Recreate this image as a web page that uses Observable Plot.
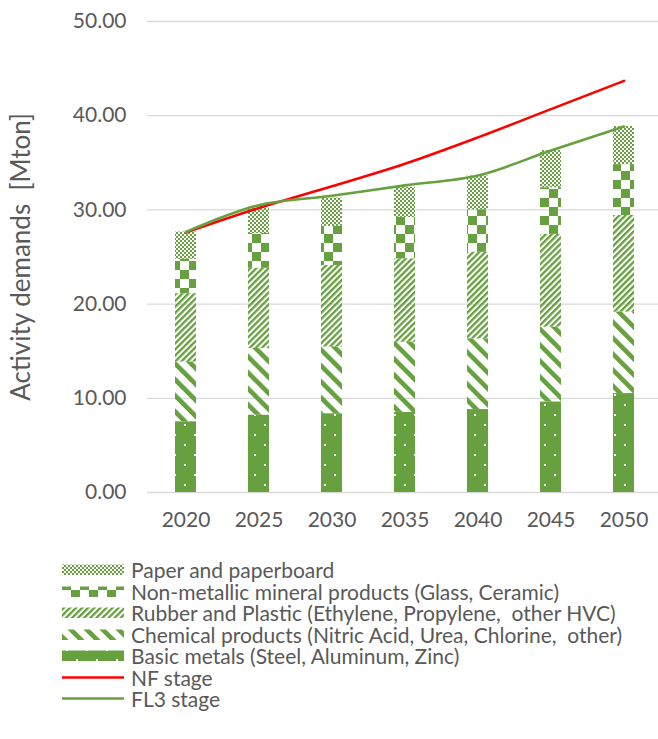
<!DOCTYPE html>
<html>
<head>
<meta charset="utf-8">
<script src="https://cdn.jsdelivr.net/npm/d3@7"></script>
<script src="https://cdn.jsdelivr.net/npm/@observablehq/plot@0.6"></script>
<style>
  html, body { margin: 0; padding: 0; background: #fff; }
  #wrap { position: relative; width: 658px; height: 739px; overflow: hidden; font-family: Lato, "Open Sans", sans-serif; }
  svg text { white-space: pre; }
  .legend { position: absolute; left: 0; top: 0; width: 658px; }
  .row { position: absolute; left: 62px; height: 21px; display: flex; align-items: center; }
  .row svg { flex: none; }
  .row span { margin-left: 7px; font-size: 21px; color: #595959; white-space: pre; line-height: 21px; }
</style>
</head>
<body>
<div id="wrap"></div>
<script>
// ---- data ----
const years = ["2020", "2025", "2030", "2035", "2040", "2045", "2050"];
const seriesNames = [
  "Basic metals (Steel, Aluminum, Zinc)",
  "Chemical products (Nitric Acid, Urea, Chlorine,  other)",
  "Rubber and Plastic (Ethylene, Propylene,  other HVC)",
  "Non-metallic mineral products (Glass, Ceramic)",
  "Paper and paperboard"
];
const basicMetals = [7.5, 8.2, 8.35, 8.5, 8.8, 9.6, 10.5];
const chemicalProducts = [6.35, 7.1, 7.1, 7.45, 7.5, 7.95, 8.65];
const rubberPlastic = [7.25, 8.5, 8.65, 8.85, 9.2, 9.85, 10.25];
const nonMetallic = [3.65, 3.7, 4.15, 4.4, 4.5, 4.95, 5.4];
const paperboard = [2.9, 2.65, 3.0, 3.2, 3.6, 3.95, 4.05];
const nfStage = [27.6, 30.2, 32.5, 34.9, 37.7, 40.7, 43.7];
const fl3Stage = [27.65, 30.5, 31.5, 32.6, 33.65, 36.3, 38.85];
const yTicks = [0, 10, 20, 30, 40, 50];
const lineNames = ["NF stage", "FL3 stage"];

// ---- styling ----
const green = "#66A03F";
const red = "#FF0000";
const patternIds = ["pat-basic", "pat-chem", "pat-rubber", "pat-nonmet", "pat-paper"];

const seriesValues = [basicMetals, chemicalProducts, rubberPlastic, nonMetallic, paperboard];
const barRows = [];
years.forEach((yr, i) => {
  seriesNames.forEach((s, k) => barRows.push({year: yr, series: s, value: seriesValues[k][i]}));
});
const nfRows = years.map((yr, i) => ({year: yr, value: nfStage[i]}));
const fl3Rows = years.map((yr, i) => ({year: yr, value: fl3Stage[i]}));

const defsHtml = `
<pattern id="pat-basic" patternUnits="userSpaceOnUse" width="20" height="20">
  <rect width="20" height="20" fill="${green}"/>
  <rect x="4" y="4" width="2" height="2" fill="#fff"/>
  <rect x="14" y="14" width="2" height="2" fill="#fff"/>
</pattern>
<pattern id="pat-chem" patternUnits="userSpaceOnUse" width="11.3" height="11.3" patternTransform="rotate(-45)">
  <rect width="4.6" height="11.3" fill="${green}"/>
</pattern>
<pattern id="pat-rubber" patternUnits="userSpaceOnUse" width="4.3" height="4.3" patternTransform="rotate(45)">
  <rect width="2.3" height="4.3" fill="${green}"/>
</pattern>
<pattern id="pat-nonmet" patternUnits="userSpaceOnUse" width="18" height="18">
  <rect x="0" y="0" width="9" height="9" fill="${green}"/>
  <rect x="9" y="9" width="9" height="9" fill="${green}"/>
</pattern>
<pattern id="pat-paper" patternUnits="userSpaceOnUse" width="4" height="4">
  <rect x="0" y="0" width="2" height="2" fill="${green}"/>
  <rect x="2" y="2" width="2" height="2" fill="${green}"/>
</pattern>`;

const chart = Plot.plot({
  width: 658,
  height: 545,
  marginTop: 21,
  marginBottom: 53,
  marginLeft: 147,
  marginRight: 0,
  style: {fontFamily: "Lato, 'Open Sans', sans-serif", fontSize: "21px", color: "#595959", background: "#fff"},
  x: {domain: years, range: [146.6, 663], paddingInner: 0.715, paddingOuter: 0.3575},
  y: {domain: [0, 50]},
  color: {type: "ordinal", domain: seriesNames, range: patternIds.map(id => `url(#${id})`)},
  marks: [
    Plot.ruleY(yTicks, {stroke: "#D9D9D9", strokeWidth: 1.3}),
    Plot.barY(barRows, Plot.stackY({x: "year", y: "value", fill: "series", order: null})),
    Plot.line(nfRows, {x: "year", y: "value", stroke: red, strokeWidth: 2.6, curve: "catmull-rom"}),
    Plot.line(fl3Rows, {x: "year", y: "value", stroke: green, strokeWidth: 2.6, curve: "catmull-rom"}),
    Plot.axisY({ticks: yTicks, tickFormat: d => d.toFixed(2), tickSize: 0, tickPadding: 21,
      label: "Activity demands  [Mton]", labelAnchor: "center", labelOffset: 136, labelArrow: false,
      fontSize: 21}),
    Plot.axisX({tickSize: 0, tickPadding: 20, label: null, fontSize: 21})
  ]
});
d3.select(chart).insert("defs", ":first-child").html(defsHtml);
d3.select(chart).selectAll("[aria-label='y-axis label'] text").style("font-size", "26px");
document.getElementById("wrap").appendChild(chart);
chart.style.position = "absolute";
chart.style.left = "0";
chart.style.top = "0";

// ---- legend ----
const legend = document.createElement("div");
legend.className = "legend";
const legendEntries = [
  {name: seriesNames[4], pat: "pat-paper"},
  {name: seriesNames[3], pat: "pat-nonmet"},
  {name: seriesNames[2], pat: "pat-rubber"},
  {name: seriesNames[1], pat: "pat-chem"},
  {name: seriesNames[0], pat: "pat-basic"},
  {name: lineNames[0], line: red},
  {name: lineNames[1], line: green}
];
legendEntries.forEach((e, i) => {
  const row = document.createElement("div");
  row.className = "row";
  row.style.top = (559 + i * 21.5) + "px";
  const sw = e.pat
    ? `<svg width="62" height="21"><rect x="0" y="5.5" width="62" height="10.5" fill="url(#${e.pat})"/></svg>`
    : `<svg width="62" height="21"><line x1="0" x2="62" y1="10.5" y2="10.5" stroke="${e.line}" stroke-width="2.6"/></svg>`;
  row.innerHTML = sw + `<span>${e.name}</span>`;
  legend.appendChild(row);
});
document.getElementById("wrap").appendChild(legend);
</script>
</body>
</html>
